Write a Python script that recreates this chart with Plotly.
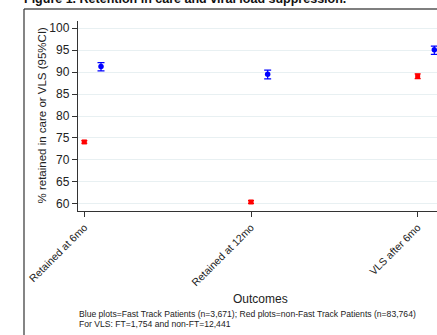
import plotly.graph_objects as go

categories = ["Retained at 6mo", "Retained at 12mo", "VLS after 6mo"]
nonft_est = [74.1, 60.45, 89.05]
nonft_lo = [73.8, 60.15, 88.5]
nonft_hi = [74.4, 60.75, 89.6]
ft_est = [91.25, 89.5, 95.05]
ft_lo = [90.25, 88.45, 94.0]
ft_hi = [92.15, 90.45, 95.9]
y_ticks = [60, 65, 70, 75, 80, 85, 90, 95, 100]
note_lines = ["Blue plots=Fast Track Patients (n=3,671); Red plots=non-Fast Track Patients (n=83,764)",
              "For VLS: FT=1,754 and non-FT=12,441"]

W, H = 437, 335
L, R, T, B = 78, 0, 21, 124
pw, ph = W - L - R, H - T - B

def px_x(p):
    return (p - L) / pw

def px_y(p):
    return (H - B - p) / ph

x_red = list(range(len(categories)))
x_blue = [i + 0.1 for i in x_red]

fig = go.Figure()
fig.add_trace(go.Scatter(
    x=x_red, y=nonft_est, mode="markers",
    marker=dict(symbol="square", size=5, color="#ff0000"),
    error_y=dict(type="data", symmetric=False,
                 array=[h - e for h, e in zip(nonft_hi, nonft_est)],
                 arrayminus=[e - l for e, l in zip(nonft_est, nonft_lo)],
                 color="#ff0000", thickness=1.2, width=3),
    showlegend=False, cliponaxis=False, hoverinfo="skip"))
fig.add_trace(go.Scatter(
    x=x_blue, y=ft_est, mode="markers",
    marker=dict(symbol="circle", size=5.5, color="#0000ff"),
    error_y=dict(type="data", symmetric=False,
                 array=[h - e for h, e in zip(ft_hi, ft_est)],
                 arrayminus=[e - l for e, l in zip(ft_est, ft_lo)],
                 color="#0000ff", thickness=1.2, width=3.5),
    showlegend=False, cliponaxis=False, hoverinfo="skip"))

font = "Liberation Sans, Arial, sans-serif"
annotations = [
    dict(text="<b>Figure 1. Retention in care and viral load suppression.</b>",
         xref="paper", yref="paper", x=px_x(22), y=px_y(-1),
         xanchor="left", yanchor="middle", showarrow=False,
         font=dict(size=12.5, color="#111")),
    dict(text="% retained in care or VLS (95%CI)",
         xref="paper", yref="paper", x=px_x(41), y=px_y(115.5),
         xanchor="center", yanchor="middle", textangle=-90,
         showarrow=False, font=dict(size=11.5, color="#222")),
    dict(text="Outcomes", xref="paper", yref="paper",
         x=px_x(260), y=px_y(299), xanchor="center", yanchor="middle",
         showarrow=False, font=dict(size=12, color="#222")),
]
for i, line in enumerate(note_lines):
    annotations.append(dict(text=line, xref="paper", yref="paper",
                            x=px_x(77), y=px_y(313.5 + 10 * i),
                            xanchor="left", yanchor="middle", align="left",
                            showarrow=False, font=dict(size=8.6, color="#222")))

fig.update_layout(
    width=W, height=H,
    margin=dict(l=L, r=R, t=T, b=B, pad=0, autoexpand=False),
    paper_bgcolor="white", plot_bgcolor="white",
    font=dict(family=font, color="#222"),
    hovermode=False,
    xaxis=dict(range=[-0.038, 2.116], tickmode="array",
               tickvals=x_red, ticktext=categories, tickangle=-45,
               tickfont=dict(size=10.5, color="#222"), automargin=False,
               showline=True, linecolor="#333", linewidth=1.2,
               ticks="outside", ticklen=5, tickcolor="#333",
               showgrid=False, zeroline=False, fixedrange=True),
    yaxis=dict(range=[58.4, 101.6], tickmode="array", tickvals=y_ticks,
               tickfont=dict(size=12, color="#222"), automargin=False,
               showline=True, linecolor="#333", linewidth=1.2,
               ticks="outside", ticklen=5, tickcolor="#333",
               showgrid=True, gridcolor="#e8f0f2", gridwidth=1,
               zeroline=False, fixedrange=True),
    shapes=[
        dict(type="line", xref="paper", yref="paper",
             x0=px_x(24), x1=px_x(440), y0=px_y(9), y1=px_y(9),
             line=dict(color="#555", width=1.5)),
        dict(type="line", xref="paper", yref="paper",
             x0=px_x(24), x1=px_x(24), y0=px_y(9), y1=px_y(340),
             line=dict(color="#333", width=1.2)),
    ],
    annotations=annotations,
)

fig.write_html("out.html", config=dict(displayModeBar=False, staticPlot=True),
               post_script="document.body.style.margin='0';document.body.style.overflow='hidden';")
